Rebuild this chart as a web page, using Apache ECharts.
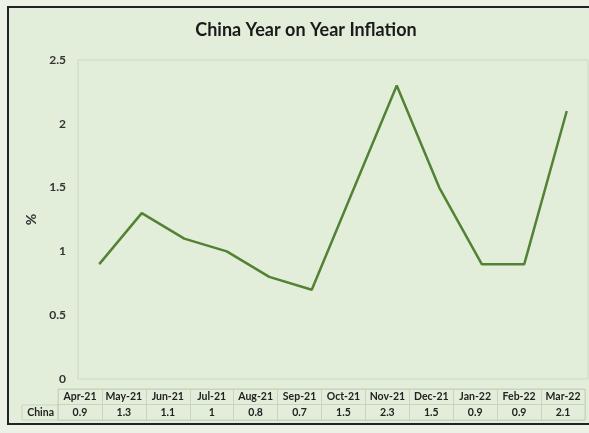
<!DOCTYPE html>
<html>
<head>
<meta charset="utf-8">
<script src="https://cdn.jsdelivr.net/npm/echarts@6/dist/echarts.min.js"></script>
<style>
    html, body {
        margin: 0;
        padding: 0;
        background: #EBF1E4;
    }
    .wrap {
        position: relative;
        width: 589px;
        height: 433px;
        overflow: hidden;
    }
    .frame {
        position: absolute;
        left: 7px;
        top: 6px;
        width: 640px;
        height: 415px;
        border: 2px solid #222;
        background: #E2EEDA;
    }
    #myChart {
        position: absolute;
        left: 0;
        top: 0;
        width: 589px;
        height: 433px;
    }
</style>
</head>
<body>
<div class="wrap">
    <div class="frame"></div>
    <div id="myChart"></div>
</div>
<script>
    // months along the bottom
    var months = ['Apr-21', 'May-21', 'Jun-21', 'Jul-21', 'Aug-21', 'Sep-21',
                  'Oct-21', 'Nov-21', 'Dec-21', 'Jan-22', 'Feb-22', 'Mar-22']
    // year on year inflation, %
    var inflation = [0.9, 1.3, 1.1, 1, 0.8, 0.7, 1.5, 2.3, 1.5, 0.9, 0.9, 2.1]
    var rowNames = ['China', '']

    var yMin = 0, yMax = 2.5, yStep = 0.5

    var gridLine = '#C9D3C0'
    var font = 'Lato, "Open Sans", sans-serif'

    var tableLabel = {
        interval: 0,
        margin: 2,
        fontFamily: font,
        fontSize: 10.5,
        fontWeight: 'bold',
        color: '#222'
    }

    var myChart = echarts.init(document.getElementById('myChart'))

    myChart.setOption({
        backgroundColor: 'transparent',
        title: {
            text: 'China Year on Year Inflation',
            left: 306,
            textAlign: 'center',
            top: 21,
            padding: 0,
            textStyle: {
                fontFamily: font,
                fontSize: 18,
                fontWeight: 'bold',
                color: '#1a1a1a'
            }
        },
        grid: [
            // plot
            { left: 78, right: 1, top: 60, bottom: 54, show: true, borderColor: '#CDD8C4', borderWidth: 1 },
            // data table lines
            { left: 58, right: 4, top: 389, height: 31, show: true, borderColor: gridLine, borderWidth: 1 },
            // "China" cell
            { left: 22, width: 36, top: 405, height: 15, show: true, borderColor: gridLine, borderWidth: 1 },
            // header row labels
            { left: 58, right: 4, top: 388, height: 1 },
            // value row labels
            { left: 58, right: 4, top: 404, height: 1 }
        ],
        xAxis: [
            {
                gridIndex: 0,
                type: 'category',
                data: months,
                axisLine: { show: false },
                axisTick: { show: false },
                axisLabel: { show: false }
            },
            {
                gridIndex: 1,
                type: 'category',
                data: months,
                axisLine: { show: false },
                axisTick: { show: false },
                axisLabel: { show: false },
                splitLine: { show: true, interval: 0, lineStyle: { color: gridLine } }
            },
            { gridIndex: 2, type: 'category', data: [''], show: false },
            {
                gridIndex: 3,
                type: 'category',
                data: months,
                axisLine: { show: false },
                axisTick: { show: false },
                axisLabel: tableLabel
            },
            {
                gridIndex: 4,
                type: 'category',
                data: months,
                axisLine: { show: false },
                axisTick: { show: false },
                axisLabel: Object.assign({}, tableLabel, {
                    formatter: function (v, i) { return String(inflation[i]) }
                })
            }
        ],
        yAxis: [
            {
                gridIndex: 0,
                type: 'value',
                min: yMin,
                max: yMax,
                interval: yStep,
                splitLine: { show: false },
                axisLine: { show: false },
                axisTick: { show: false },
                axisLabel: {
                    margin: 12,
                    fontFamily: font,
                    fontSize: 12,
                    fontWeight: 'bold',
                    color: '#333'
                },
                name: '%',
                nameLocation: 'middle',
                nameGap: 38,
                nameRotate: 90,
                nameTextStyle: {
                    fontFamily: font,
                    fontSize: 14,
                    fontWeight: 'bold',
                    color: '#333'
                }
            },
            {
                gridIndex: 1,
                type: 'category',
                data: rowNames,
                axisLine: { show: false },
                axisTick: { show: false },
                splitLine: { show: true, interval: 0, lineStyle: { color: gridLine } },
                axisLabel: {
                    margin: 4,
                    fontFamily: font,
                    fontSize: 10.5,
                    fontWeight: 'bold',
                    color: '#222'
                }
            },
            { gridIndex: 2, type: 'value', show: false },
            { gridIndex: 3, type: 'value', show: false },
            { gridIndex: 4, type: 'value', show: false }
        ],
        series: [
            {
                name: 'China',
                type: 'line',
                xAxisIndex: 0,
                yAxisIndex: 0,
                data: inflation,
                symbol: 'none',
                lineStyle: { color: '#548235', width: 2.5 },
                itemStyle: { color: '#548235' }
            }
        ]
    })
</script>
</body>
</html>
